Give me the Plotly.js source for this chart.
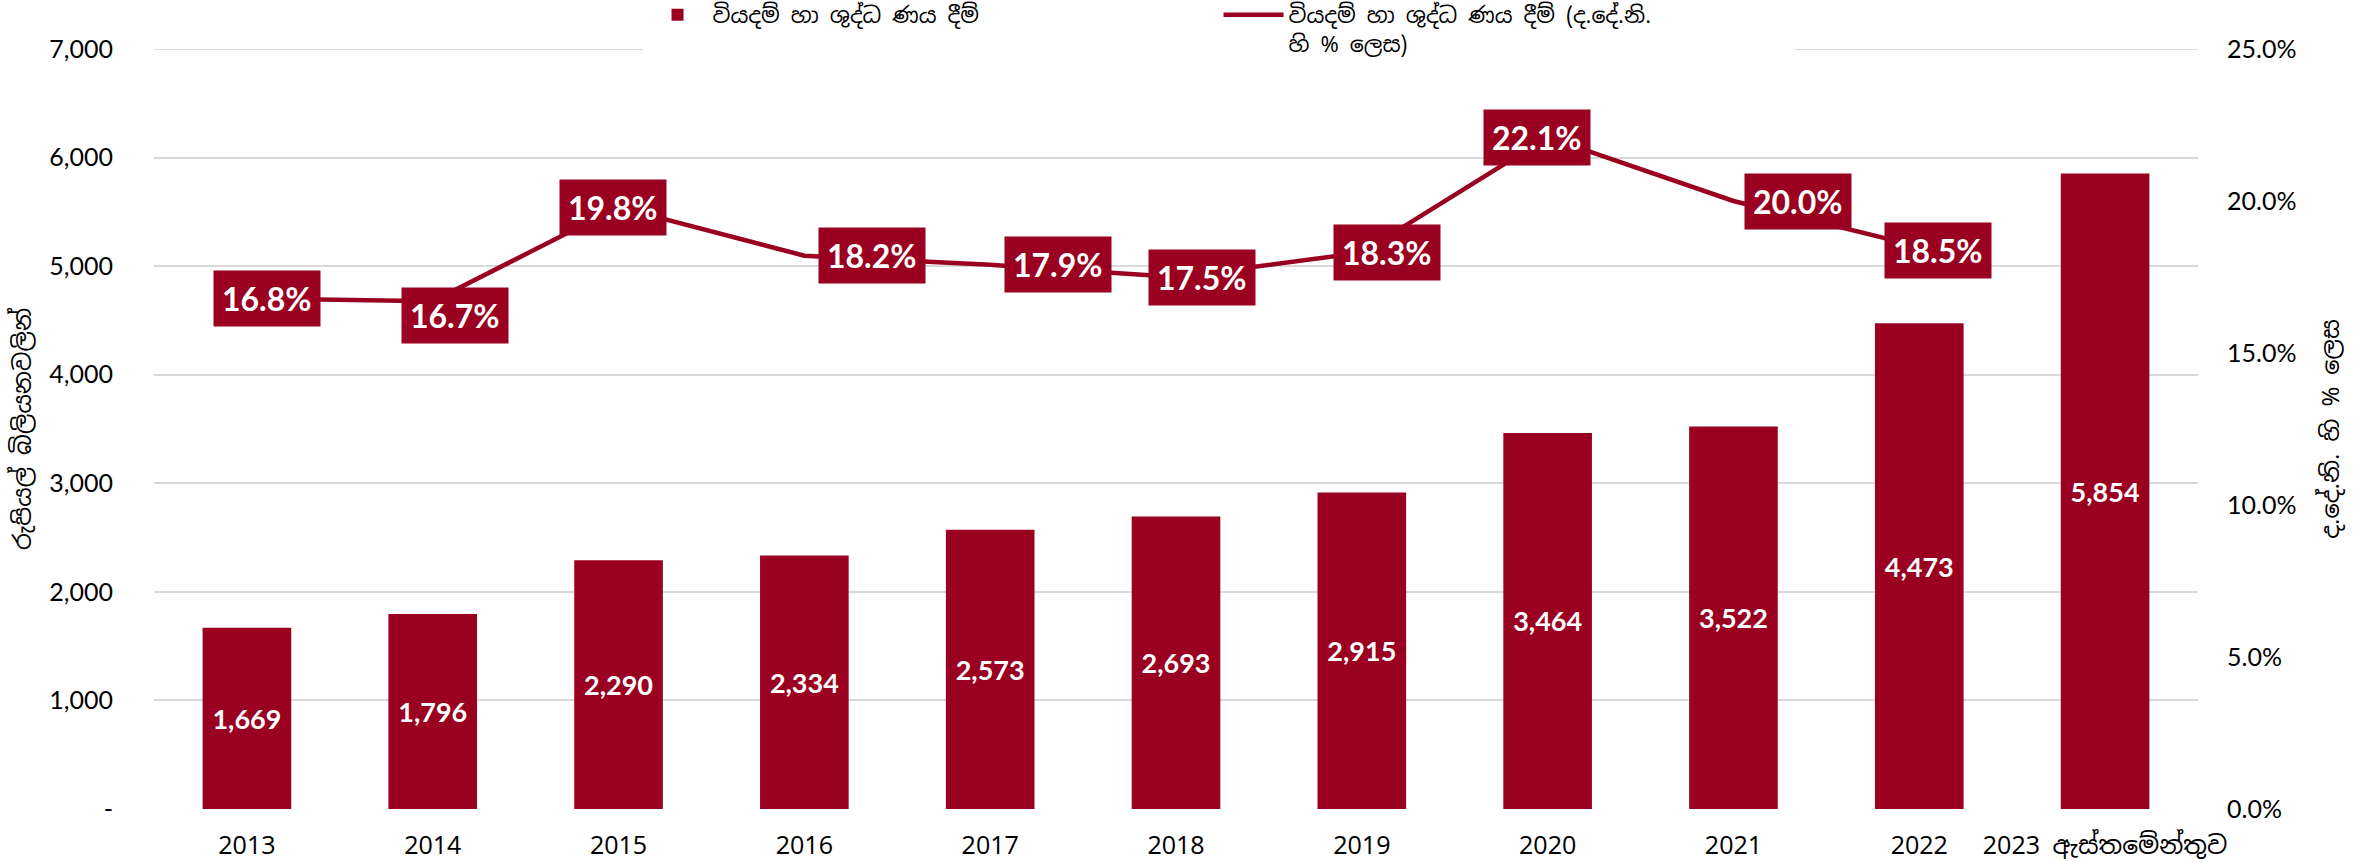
<!DOCTYPE html>
<html>
<head>
<meta charset="utf-8">
<script src="https://cdn.plot.ly/plotly-3.0.1.min.js"></script>
<style>
  html, body { margin: 0; padding: 0; background: #ffffff; }
  #chart { width: 2369px; height: 862px; }
</style>
</head>
<body>
<div id="chart"></div>
<script>
// ---- data ----
const categories = ['2013', '2014', '2015', '2016', '2017', '2018', '2019', '2020', '2021', '2022', '2023 ඇස්තමේන්තුව'];
const expenditure = [1669, 1796, 2290, 2334, 2573, 2693, 2915, 3464, 3522, 4473, 5854];
const pctOfGDP = [16.8, 16.7, 19.8, 18.2, 17.9, 17.5, 18.3, 22.1, 20.0, 18.5, null];

const leftTickVals = [0, 1000, 2000, 3000, 4000, 5000, 6000, 7000];
const leftTickText = ['-', '1,000', '2,000', '3,000', '4,000', '5,000', '6,000', '7,000'];
const rightTickVals = [0, 5, 10, 15, 20, 25];
const rightTickText = ['0.0%', '5.0%', '10.0%', '15.0%', '20.0%', '25.0%'];

const barName = 'වියදම් හා ශුද්ධ ණය දීම්';
const lineName = 'වියදම් හා ශුද්ධ ණය දීම් (ද.දේ.නි.<br>හි % ලෙස)';
const leftTitle = 'රුපියල් බිලියනවලින්';
const rightTitle = 'ද.දේ.නි. හි % ලෙස';

// ---- styling (label placement offsets in px, not data) ----
const labelShiftX = [20, 22, -6, 68, 68, 26, 25, -11, 65, 19];
const labelShiftY = [0, -14, 0, 0, 0, 0, 0, 0, 0, -4];

const RED = '#9A0020';
const GRID = '#D9D9D9';
const SIN = '"Noto Sans Sinhala", "Iskoola Pota", "Noto Serif Sinhala", "Lato", sans-serif';
const NUM = 'Lato, "Open Sans", sans-serif';

const lineX = [], lineY = [];
pctOfGDP.forEach((v, i) => { if (v !== null) { lineX.push(categories[i]); lineY.push(v); } });

const barTrace = {
  type: 'bar',
  name: barName,
  x: categories,
  y: expenditure,
  marker: { color: RED },
  texttemplate: '%{y:,}',
  textposition: 'inside',
  insidetextanchor: 'middle',
  constraintext: 'none',
  textfont: { family: NUM, size: 27, color: '#ffffff', weight: 'bold' },
  hoverinfo: 'x+y'
};

const lineTrace = {
  type: 'scatter',
  mode: 'lines',
  name: lineName,
  x: lineX,
  y: lineY,
  yaxis: 'y2',
  line: { color: RED, width: 4.5 },
  cliponaxis: false
};

const annotations = [];
pctOfGDP.forEach((v, i) => {
  if (v === null) return;
  annotations.push({
    x: i,
    y: v,
    xref: 'x',
    yref: 'y2',
    text: v.toFixed(1) + '%',
    showarrow: false,
    xshift: labelShiftX[i],
    yshift: labelShiftY[i],
    bgcolor: RED,
    borderpad: 8,
    font: { family: NUM, size: 32, color: '#ffffff', weight: 'bold' }
  });
});

// top gridline (Plotly omits the grid line at the very top edge of the range)
const topGridValue = leftTickVals[leftTickVals.length - 1];
const shapes = [{
  type: 'line',
  xref: 'paper', x0: 0, x1: 1,
  yref: 'y', y0: topGridValue, y1: topGridValue,
  line: { color: GRID, width: 2 },
  layer: 'below'
}];

const layout = {
  width: 2369,
  height: 862,
  margin: { l: 154, r: 171, t: 49, b: 53, autoexpand: false },
  paper_bgcolor: '#ffffff',
  plot_bgcolor: '#ffffff',
  bargap: 0.523,
  showlegend: true,
  legend: {
    orientation: 'h',
    x: 0.239,
    xanchor: 'left',
    y: 1.0724,
    yanchor: 'top',
    bgcolor: '#ffffff',
    font: { family: SIN, size: 22, color: '#000000' },
    itemwidth: 60,
    entrywidth: 501,
    valign: 'top',
    traceorder: 'normal'
  },
  xaxis: {
    type: 'category',
    range: [-0.5, 10.5],
    autorange: false,
    showgrid: false,
    zeroline: false,
    showline: false,
    ticks: '',
    ticklabelstandoff: 19,
    tickfont: { family: SIN, size: 25, color: '#000000' }
  },
  yaxis: {
    range: [0, 7000],
    autorange: false,
    tickvals: leftTickVals,
    ticktext: leftTickText,
    showgrid: true,
    gridcolor: GRID,
    gridwidth: 2,
    zeroline: false,
    showline: false,
    ticks: '',
    ticklabelstandoff: 40,
    tickfont: { family: NUM, size: 25, color: '#000000' },
    title: { text: leftTitle, font: { family: SIN, size: 24, color: '#000000' }, standoff: 10 }
  },
  yaxis2: {
    overlaying: 'y',
    side: 'right',
    range: [0, 25],
    autorange: false,
    tickvals: rightTickVals,
    ticktext: rightTickText,
    showgrid: false,
    zeroline: false,
    showline: false,
    ticks: '',
    ticklabelstandoff: 28,
    tickfont: { family: NUM, size: 25, color: '#000000' },
    title: { text: rightTitle, font: { family: SIN, size: 24, color: '#000000' }, standoff: 26 }
  },
  shapes: shapes,
  annotations: annotations
};

Plotly.newPlot('chart', [barTrace, lineTrace], layout, { displayModeBar: false, responsive: false });
</script>
</body>
</html>
